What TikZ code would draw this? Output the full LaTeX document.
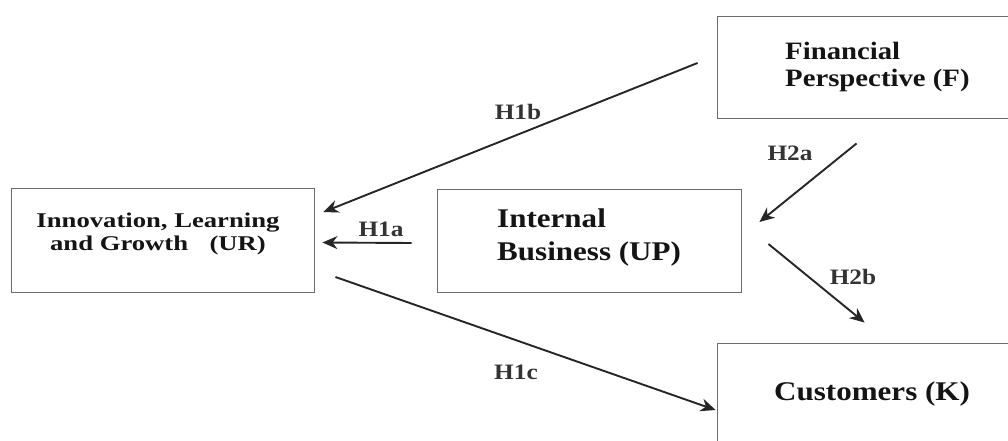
\documentclass[tikz,border=0pt]{standalone}
\usepackage{fontspec}
\setmainfont{Liberation Serif}[FakeStretch=1.15]
\newfontfamily\urfont{Liberation Serif}[FakeStretch=1.27]
\usetikzlibrary{calc,arrows.meta}

\begin{document}
\begin{tikzpicture}[x=1pt,y=-1pt,
	box/.style={draw=black!58,line width=0.9pt,inner sep=0pt},
	boxtext/.style={inner sep=0pt,text=black!92,font=\bfseries\fontsize{27}{33}\selectfont},
	arr/.style={draw=black!85,line width=1.9pt,-{Stealth[length=15pt,width=13pt]}},
	hyp/.style={inner sep=0pt,text=black!80,font=\bfseries\fontsize{22}{26}\selectfont}]
	%\draw[help lines] (0,0) grid[step=50] (1008,441);
	\useasboundingbox (0,0) rectangle (1008,441);
	\clip (0,0) rectangle (1008,441);
	% boxes (F and K run past the right edge)
	\node[box,minimum width=303,minimum height=104] (UR) at (162.5,240) {};
	\node[box,minimum width=304,minimum height=103] (UP) at (589,240.5) {};
	\node[box,minimum width=330,minimum height=102] (F) at (882,67) {};
	\node[box,minimum width=330,minimum height=120] (K) at (882,403) {};
	% texts
	\node[boxtext,align=center,font=\urfont\bfseries\fontsize{21}{23}\selectfont] (URtext) at (158,234)
		{Innovation, Learning\\and Growth\hspace{0.7em} (UR)};
	\node[boxtext,align=left,anchor=west] (UPtext) at (497,238) {Internal\\Business (UP)};
	\node[boxtext,align=left,anchor=west,font=\bfseries\fontsize{25}{27}\selectfont] (Ftext) at (785,67)
		{Financial\\Perspective (F)};
	\node[boxtext,anchor=west] (Ktext) at (774,394) {Customers (K)};
	% hypotheses
	\draw[arr] ($(F.west)+(-19,-4)$) -- ($(UR.east)+(9,-28)$);
	\draw[arr] ($(UP.west)+(-25,2.5)$) -- ($(UR.east)+(8,2.5)$);
	\draw[arr] ($(UR.east)+(21,37)$) -- ($(K.west)+(-1,7)$);
	\draw[arr] ($(F.south west)+(140,25)$) -- ($(UP.east)+(18,-18.5)$);
	\draw[arr] ($(UP.east)+(27,3.5)$) -- ($(K.north west)+(148,-20)$);
	\node[hyp] (h1b) at (518,112) {H1b};
	\node[hyp] (h1a) at (381,229) {H1a};
	\node[hyp] (h1c) at (516,372) {H1c};
	\node[hyp] (h2a) at (790,153) {H2a};
	\node[hyp] (h2b) at (853,277) {H2b};
\end{tikzpicture}
\end{document}
